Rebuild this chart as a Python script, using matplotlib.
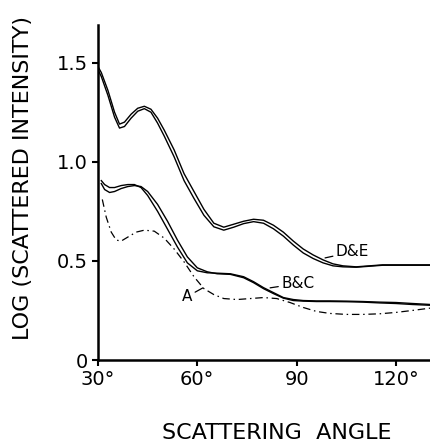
import numpy as np
import matplotlib
matplotlib.use('Agg')
import matplotlib.pyplot as plt

# scattering angle (deg) and log intensity
angles_de = [30, 31, 33, 35, 36.5, 38, 40, 42, 44, 46, 48, 50, 53, 56, 59, 62, 65, 68,
             71, 74, 77, 80, 83, 86, 89, 92, 95, 98, 101, 104, 108, 112, 116, 120, 125, 130.5]
curve_d = [1.48, 1.45, 1.36, 1.25, 1.19, 1.20, 1.24, 1.27, 1.28, 1.265, 1.22, 1.16, 1.06,
           0.94, 0.85, 0.76, 0.69, 0.67, 0.685, 0.70, 0.71, 0.705, 0.68, 0.645, 0.60, 0.56,
           0.53, 0.505, 0.485, 0.475, 0.47, 0.475, 0.48, 0.48, 0.48, 0.48]
curve_e = [1.465, 1.43, 1.335, 1.225, 1.17, 1.178, 1.22, 1.255, 1.268, 1.25, 1.195, 1.13,
           1.025, 0.905, 0.815, 0.73, 0.672, 0.655, 0.67, 0.688, 0.698, 0.69, 0.662, 0.625,
           0.58, 0.54, 0.512, 0.49, 0.475, 0.47, 0.468, 0.473, 0.478, 0.478, 0.478, 0.478]

angles_bc = [31, 32, 33.5, 35, 37, 39, 41, 43, 45, 48, 51, 54, 57, 60, 63, 66, 70, 74, 77,
             80, 83, 86, 89, 92, 96, 100, 105, 110, 115, 120, 125, 130.5]
curve_b = [0.905, 0.885, 0.87, 0.87, 0.88, 0.885, 0.885, 0.87, 0.83, 0.75, 0.66, 0.57, 0.49,
           0.45, 0.44, 0.438, 0.435, 0.42, 0.395, 0.365, 0.34, 0.315, 0.305, 0.30, 0.298,
           0.298, 0.297, 0.295, 0.292, 0.29, 0.285, 0.28]
curve_c = [0.89, 0.86, 0.845, 0.85, 0.865, 0.875, 0.88, 0.875, 0.85, 0.785, 0.70, 0.605, 0.52,
           0.465, 0.445, 0.435, 0.432, 0.415, 0.39, 0.36, 0.335, 0.312, 0.30, 0.297, 0.295,
           0.295, 0.294, 0.292, 0.288, 0.285, 0.28, 0.276]

angles_a = [31.3, 32.5, 34, 35.5, 37, 39, 41.5, 44, 47, 50, 53, 56, 59, 62, 65, 68, 72, 76,
            80, 84, 88, 92, 96, 100, 105, 110, 115, 120, 125, 130.5]
curve_a = [0.81, 0.72, 0.645, 0.605, 0.60, 0.62, 0.645, 0.655, 0.65, 0.615, 0.56, 0.495,
           0.42, 0.36, 0.33, 0.31, 0.305, 0.31, 0.315, 0.31, 0.29, 0.265, 0.245, 0.235,
           0.23, 0.23, 0.233, 0.24, 0.25, 0.262]

x_ticks = [30, 60, 90, 120]
x_labels = ['30°', '60°', '90', '120°']
y_ticks = [0, 0.5, 1.0, 1.5]
y_labels = ['0', '0.5', '1.0', '1.5']

plt.rcParams['font.family'] = ['DejaVu Sans']

fig = plt.figure(figsize=(4.31, 4.42), dpi=100)
ax = fig.add_axes([98 / 431, 82 / 442, 332 / 431, 335 / 442])

ax.plot(angles_de, curve_d, color='black', lw=1.0)
ax.plot(angles_de, curve_e, color='black', lw=1.0)
ax.plot(angles_bc, curve_b, color='black', lw=1.0)
ax.plot(angles_bc, curve_c, color='black', lw=1.0)
ax.plot(angles_a, curve_a, color='black', lw=0.9, dashes=(6, 3, 1.2, 3))

# curve labels with short leader lines
ax.annotate('D&E', xy=(98.6, 0.515), xytext=(101.8, 0.545), fontsize=11,
            va='center', ha='left',
            arrowprops=dict(arrowstyle='-', lw=0.9, shrinkA=0, shrinkB=0))
ax.annotate('B&C', xy=(82, 0.364), xytext=(85.3, 0.385), fontsize=11,
            va='center', ha='left',
            arrowprops=dict(arrowstyle='-', lw=0.9, shrinkA=0, shrinkB=0))
ax.annotate('A', xy=(61.7, 0.364), xytext=(58.5, 0.32), fontsize=11,
            va='center', ha='right',
            arrowprops=dict(arrowstyle='-', lw=0.9, shrinkA=0, shrinkB=0))

ax.set_xlim(30, 130.3)
ax.set_ylim(0, 1.69)
ax.set_xticks(x_ticks, x_labels)
ax.set_yticks(y_ticks, y_labels)
ax.tick_params(direction='out', length=4.5, width=1.5, labelsize=14, pad=3)

for side in ['top', 'right']:
    ax.spines[side].set_visible(False)
for side in ['left', 'bottom']:
    ax.spines[side].set_linewidth(1.8)

fig.text(23 / 431, 1 - 178 / 442, 'LOG (SCATTERED INTENSITY)', rotation=90,
         fontsize=16, ha='center', va='center')
fig.text(277 / 431, 1 - 433 / 442, 'SCATTERING  ANGLE', fontsize=16,
         ha='center', va='center')

fig.savefig('out.png', dpi=100)
